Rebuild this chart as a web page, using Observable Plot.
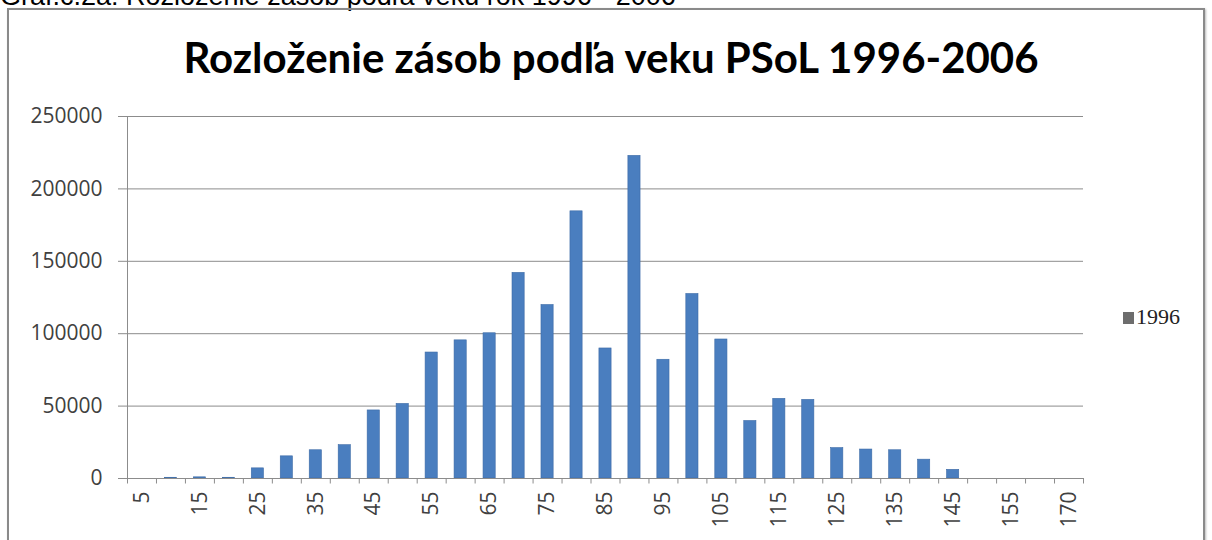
<!DOCTYPE html>
<html>
<head>
<meta charset="utf-8">
<script src="https://cdn.jsdelivr.net/npm/d3@7"></script>
<script src="https://cdn.jsdelivr.net/npm/@observablehq/plot@0.6"></script>
<style>
  body { margin: 0; background: #fff; }
  #wrap { position: relative; width: 1212px; height: 540px; overflow: hidden; background: #fff; }
  #caption { position: absolute; left: 0; top: -19px; font: 27px "Liberation Sans", Arial, sans-serif; color: #000; white-space: nowrap; }
  #box { position: absolute; left: 7px; top: 8px; width: 1198px; height: 600px; border: 2px solid #8a8a8a; box-sizing: border-box; box-shadow: 1px 1px 2px #bbb; }
  #title { position: absolute; left: 0; width: 1222px; top: 32px; text-align: center; font: bold 42px Lato, "Open Sans", sans-serif; color: #000; white-space: nowrap; }
  #chart { position: absolute; left: 0; top: 100px; }
  #legend { position: absolute; left: 1123px; top: 304px; font: 22px "Liberation Serif", serif; color: #222; white-space: nowrap; }
  #legend span.sw { display: inline-block; width: 11px; height: 12px; background: #6d6d6d; margin-right: 2px; vertical-align: 0px; }
</style>
</head>
<body>
<div id="wrap">
  <div id="caption">Graf.č.2a: Rozloženie zásob podľa veku rok 1996 - 2006</div>
  <div id="box"></div>
  <div id="title">Rozloženie zásob podľa veku PSoL 1996-2006</div>
  <div id="chart"></div>
  <div id="legend"><span class="sw"></span>1996</div>
</div>
<script>
const ages = ["5","10","15","20","25","30","35","40","45","50","55","60","65","70","75","80","85","90","95","100","105","110","115","120","125","130","135","140","145","150","155","160","170"];
const stock1996 = [0,500,800,500,7000,15300,19500,23000,47000,51500,87000,95400,100300,142000,119800,184500,89800,222800,82000,127400,96000,39700,55000,54300,21000,20000,19500,13000,6000,0,0,0,0];
const yTicks = [0,50000,100000,150000,200000,250000];
const shownLabels = ["5","15","25","35","45","55","65","75","85","95","105","115","125","135","145","155","170"];

const data = ages.map((a, i) => ({age: a, value: stock1996[i]}));

const width = 1100, marginLeft = 127, marginRight = 17;
const step = (width - marginLeft - marginRight) / ages.length;

const chart = Plot.plot({
  width: width,
  height: 440,
  marginLeft: marginLeft,
  marginRight: marginRight,
  marginTop: 16,
  marginBottom: 62,
  style: { fontFamily: "'Open Sans', sans-serif", background: "transparent" },
  x: { domain: ages, paddingInner: 0.58, paddingOuter: 0.29, align: 0.5 },
  y: { domain: [0, 250000] },
  marks: [
    Plot.gridY(yTicks, { stroke: "#8c8c8c", strokeOpacity: 1, strokeWidth: 1 }),
    Plot.barY(data, { x: "age", y: "value", fill: "#4a7ebf", stroke: "#3c6aa6", strokeWidth: 0.6 }),
    Plot.ruleY([0], { stroke: "#8c8c8c" }),
    Plot.ruleX([ages[0]], { x: d => d, dx: -step / 2, y1: 0, y2: 250000, stroke: "#8c8c8c" }),
    Plot.ruleX(ages, { x: d => d, dx: -step / 2, y1: 0, y2: -3800, stroke: "#8c8c8c" }),
    Plot.ruleX([ages[ages.length - 1]], { x: d => d, dx: step / 2, y1: 0, y2: -3800, stroke: "#8c8c8c" }),
    Plot.axisY({ ticks: yTicks, tickFormat: d => String(d), tickSize: 9, tickPadding: 16, fontSize: 21, color: "#404040", stroke: "#8c8c8c", label: null }),
    Plot.axisX({ ticks: shownLabels, tickSize: 0, tickPadding: 13, tickRotate: -90, fontSize: 21, color: "#404040", label: null })
  ]
});
document.getElementById("chart").appendChild(chart);
</script>
</body>
</html>
